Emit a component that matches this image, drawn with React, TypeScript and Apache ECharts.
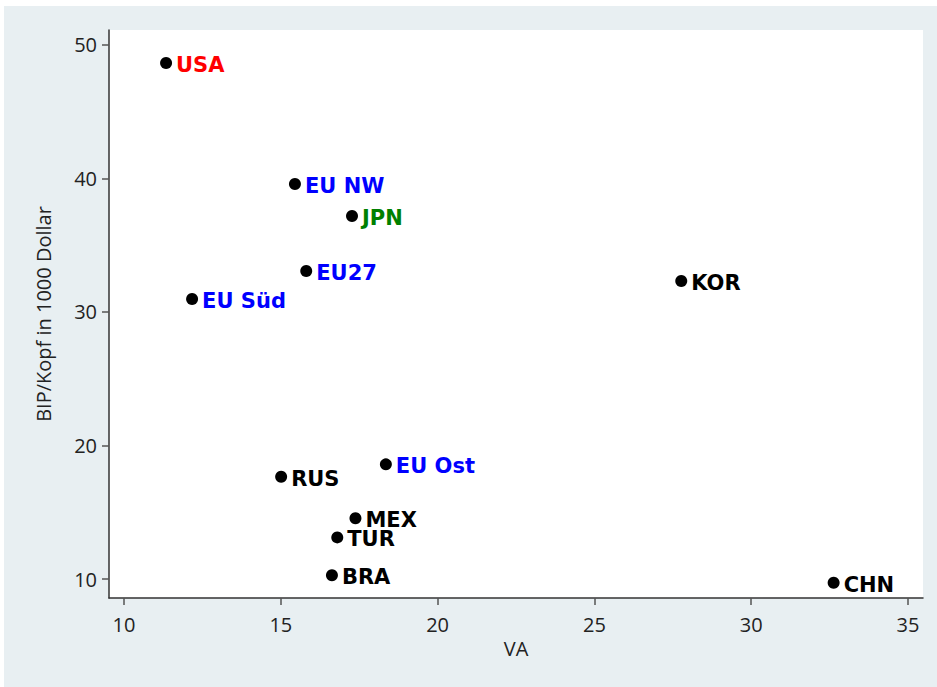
import React, { useEffect, useRef } from "react";
import * as echarts from "echarts";

const countries = ["USA", "EU NW", "JPN", "EU27", "EU Süd", "KOR", "RUS", "EU Ost", "MEX", "TUR", "BRA", "CHN"];
const vaValues = [11.34, 15.45, 17.27, 15.81, 12.17, 27.77, 15.01, 18.35, 17.38, 16.8, 16.63, 32.63];
const gdpValues = [48.65, 39.59, 37.19, 33.07, 30.97, 32.32, 17.66, 18.59, 14.55, 13.12, 10.28, 9.72];
const labelColors = ["#ff0000", "#0000ff", "#008000", "#0000ff", "#0000ff", "#000000", "#000000", "#0000ff", "#000000", "#000000", "#000000", "#000000"];
const xTicks = [10, 15, 20, 25, 30, 35];
const yTicks = [10, 20, 30, 40, 50];

export default function App() {
  const ref = useRef<HTMLDivElement>(null);
  useEffect(() => {
    if (!ref.current) return;
    const chart = echarts.init(ref.current, null, { renderer: "svg" });
    const data = countries.map((name, i) => ({
      name,
      value: [vaValues[i], gdpValues[i]],
      label: { color: labelColors[i] },
    }));
    const tickFont = { fontFamily: "Open Sans", fontSize: 20, color: "#222" };
    chart.setOption({
      animation: false,
      backgroundColor: "#e8eff2",
      grid: {
        left: 105,
        top: 24,
        right: 14,
        bottom: 89,
        show: true,
        backgroundColor: "#ffffff",
        borderWidth: 0,
      },
      xAxis: {
        type: "value",
        min: 9.52,
        max: 35.48,
        name: "VA",
        nameLocation: "middle",
        nameGap: 40,
        nameTextStyle: { ...tickFont },
        axisLine: { show: true, lineStyle: { color: "#333", width: 1.5 } },
        axisTick: { show: true, length: 7, customValues: xTicks, lineStyle: { color: "#555", width: 1.5 } },
        axisLabel: { customValues: xTicks, margin: 16, ...tickFont },
        splitLine: { show: false },
      },
      yAxis: {
        type: "value",
        min: 8.58,
        max: 51.12,
        name: "BIP/Kopf in 1000 Dollar",
        nameLocation: "middle",
        nameGap: 56,
        nameTextStyle: { ...tickFont },
        axisLine: { show: true, lineStyle: { color: "#333", width: 1.5 } },
        axisTick: { show: true, length: 7, customValues: yTicks, lineStyle: { color: "#555", width: 1.5 } },
        axisLabel: { customValues: yTicks, margin: 12, ...tickFont },
        splitLine: { show: false },
      },
      series: [
        {
          type: "scatter",
          symbol: "circle",
          symbolSize: 12,
          itemStyle: { color: "#000", opacity: 1 },
          emphasis: { disabled: true },
          data,
          label: {
            show: true,
            position: "right",
            distance: 4,
            formatter: "{b}",
            fontFamily: "DejaVu Sans",
            fontWeight: "bold",
            fontSize: 21,
            opacity: 1,
            offset: [0, 2],
          },
        },
      ],
    });
    return () => chart.dispose();
  }, []);
  return (
    <div
      ref={ref}
      style={{ position: "absolute", left: 4, top: 6, width: 933, height: 681 }}
    />
  );
}
